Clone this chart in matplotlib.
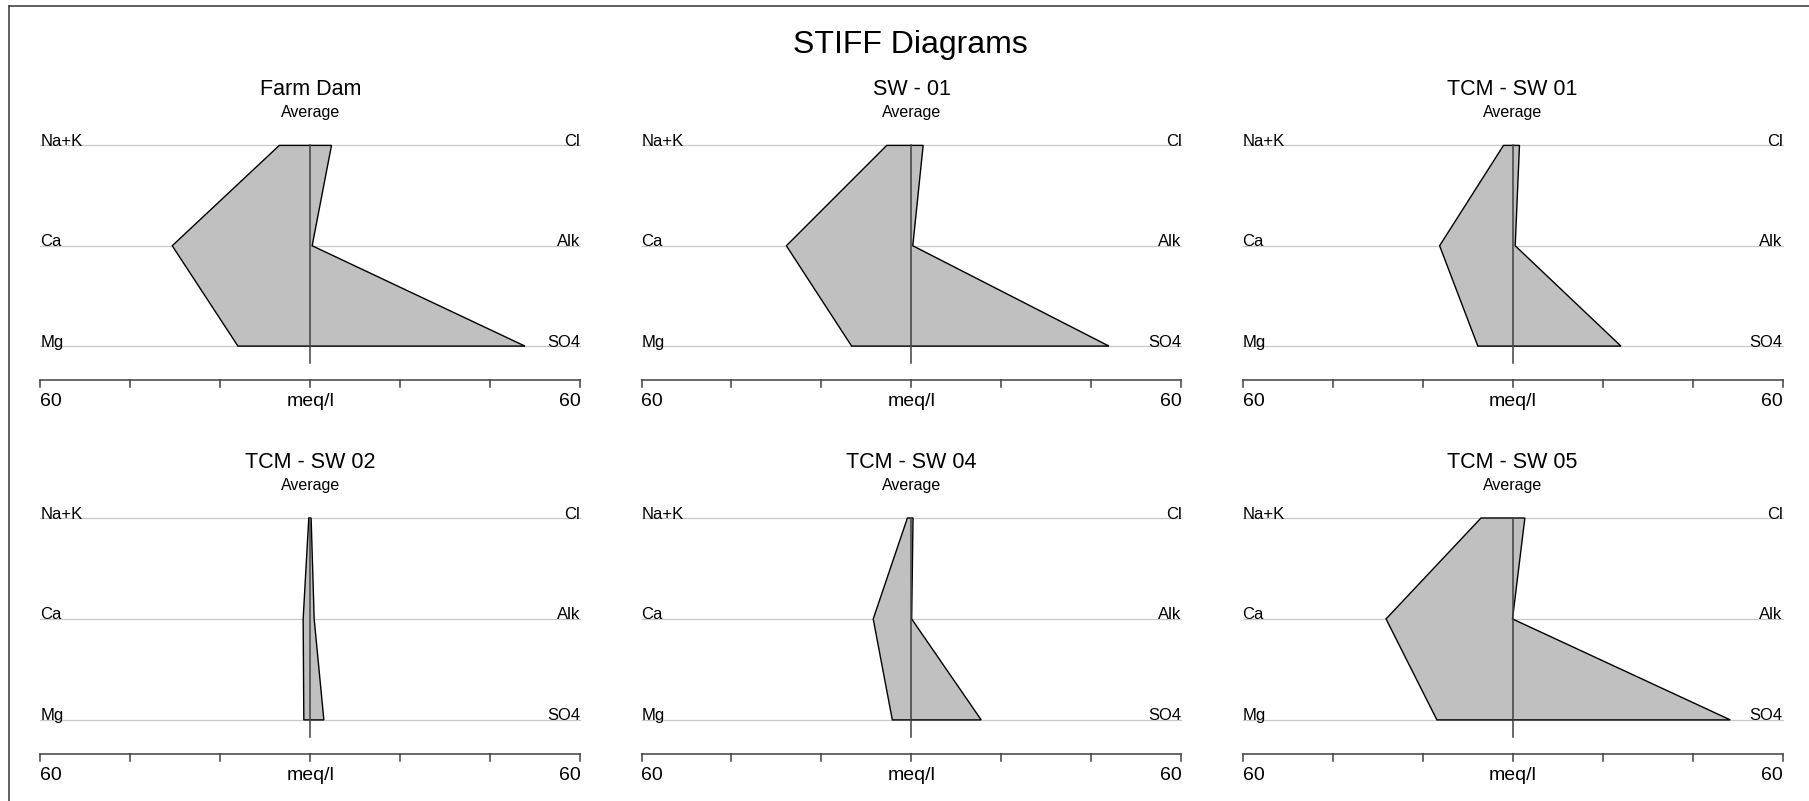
import matplotlib
matplotlib.use("Agg")
from matplotlib import pyplot as plt
from matplotlib.lines import Line2D

plt.rcParams['font.family'] = ['Liberation Sans', 'DejaVu Sans']

# stiff data, meq/l
sites = ["Farm Dam", "SW - 01", "TCM - SW 01", "TCM - SW 02", "TCM - SW 04", "TCM - SW 05"]
na_k = [6.9, 5.5, 2.0, 0.35, 0.9, 7.0]
ca = [30.7, 27.8, 16.2, 1.6, 8.5, 28.1]
mg = [16.1, 13.3, 7.7, 1.45, 4.25, 16.8]
cl = [4.7, 2.6, 1.55, 0.17, 0.35, 2.75]
alk = [0.4, 0.3, 0.6, 0.85, 0.05, 0.0]
so4 = [47.7, 43.9, 24.1, 3.0, 15.5, 48.4]
cations = ["Na+K", "Ca", "Mg"]
anions = ["Cl", "Alk", "SO4"]
scale_max = 60
ticks = [-60, -40, -20, 0, 20, 40, 60]

W, H = 1809, 801
fig = plt.figure(figsize=(W / 100, H / 100), dpi=100)


def fx(x):
    return x / W


def fy(y):
    return 1 - y / H


# frame of the screenshot
fig.add_artist(Line2D([fx(9), 1], [fy(6), fy(6)], color="#444444", lw=1.2))
fig.add_artist(Line2D([fx(9), fx(9)], [fy(6), 0], color="#444444", lw=1.2))

fig.text(fx(910), fy(45), "STIFF Diagrams", ha="center", va="center", fontsize=23)

col_px = [(40.4, 580.3), (641.5, 1181.4), (1242.5, 1782.5)]
row_px = [(145.4, 346.1), (518.0, 719.9)]

for i, site in enumerate(sites):
    r, c = divmod(i, 3)
    x0, x1 = col_px[c]
    y0, y1 = row_px[r]
    ax = fig.add_axes([fx(x0), fy(y1), (x1 - x0) / W, (y1 - y0) / H])
    ax.set_xlim(-scale_max, scale_max)
    ax.set_ylim(0, 2)
    ax.axis("off")

    # horizontal guide lines
    for lvl in (0, 1, 2):
        ax.plot([-scale_max, scale_max], [lvl, lvl], color="#c8c8c8", lw=0.9,
                zorder=1, clip_on=False)

    xs = [-na_k[i], -ca[i], -mg[i], so4[i], alk[i], cl[i], -na_k[i]]
    ys = [2, 1, 0, 0, 1, 2, 2]
    ax.fill(xs, ys, facecolor="#c0c0c0", edgecolor="black", lw=1.0, zorder=2,
            clip_on=False)

    # centre line
    ax.plot([0, 0], [2, -0.17], color="#404040", lw=1.1, zorder=3, clip_on=False)

    # ion labels
    for lvl, cat, an in zip((2, 1, 0), cations, anions):
        ax.text(-scale_max, lvl - 0.005, cat, ha="left", va="baseline", fontsize=12,
                clip_on=False)
        ax.text(scale_max, lvl - 0.005, an, ha="right", va="baseline", fontsize=12,
                clip_on=False)

    # meq/l scale
    ya = -0.335
    ax.plot([-scale_max, scale_max], [ya, ya], color="#404040", lw=1.1, clip_on=False)
    for t in ticks:
        ax.plot([t, t], [ya, ya - 0.07], color="#404040", lw=1.1, clip_on=False)
    ax.text(-scale_max, ya - 0.13, str(scale_max), ha="left", va="top", fontsize=14)
    ax.text(scale_max, ya - 0.13, str(scale_max), ha="right", va="top", fontsize=14)
    ax.text(0, ya - 0.13, "meq/l", ha="center", va="top", fontsize=14)

    xc = (x0 + x1) / 2
    fig.text(fx(xc), fy(y0 - 56), site, ha="center", va="center", fontsize=15.5)
    fig.text(fx(xc), fy(y0 - 33), "Average", ha="center", va="center", fontsize=11.5)

fig.savefig("out.png", dpi=100)
